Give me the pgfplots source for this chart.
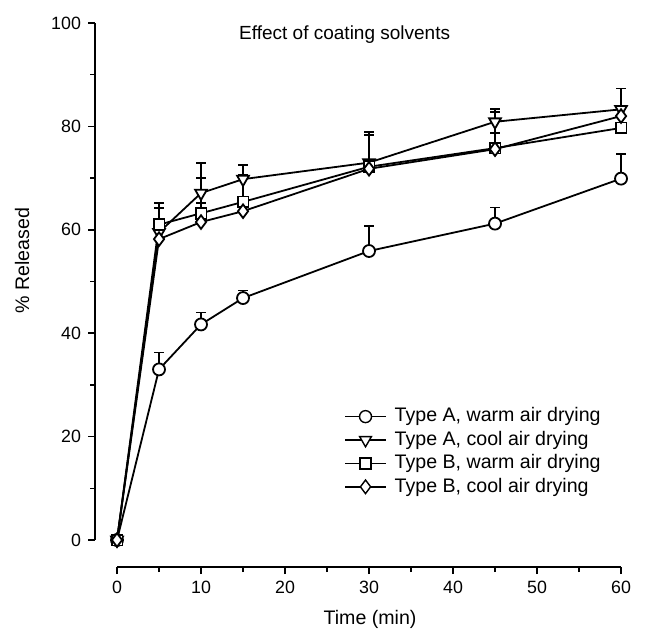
\documentclass[border=0pt]{standalone}
\usepackage{pgfplots}
\pgfplotsset{compat=1.18}
\usepackage{fontspec}
\setmainfont{Liberation Sans}
\begin{document}
\begin{tikzpicture}
\begin{axis}[
  scale only axis,
  width=252pt, height=258.5pt,
  xmin=0, xmax=60, ymin=0, ymax=100,
  clip=false,
  axis x line=bottom, axis y line=left,
  axis line style={-, line width=0.75pt},
  axis x line shift=13.5pt,
  axis y line shift=11pt,
  xtick={0,10,...,60}, ytick={0,20,...,100},
  minor x tick num=1, minor y tick num=1,
  tick align=outside,
  major tick length=3.5pt, minor tick length=2.5pt,
  tick style={line width=0.75pt, black},
  ticklabel style={font=\fontsize{8.9}{10}\selectfont},
  /pgf/number format/assume math mode=true,
  every axis y label/.style={at={(axis description cs:-0.1885,0.54)}, rotate=90, anchor=center, font=\fontsize{9.8}{12}\selectfont},
  every axis x label/.style={at={(axis description cs:0.502,-0.153)}, anchor=center, font=\fontsize{9.8}{12}\selectfont},
  xlabel={Time (min)},
  ylabel={\% Released},
  legend style={at={(axis cs:26.3,26.5)}, anchor=north west, draw=none, fill=none,
    font=\fontsize{9.8}{12}\selectfont, row sep=2.5pt, column sep=4pt,
    nodes={inner sep=0pt, text height=7.2pt, text depth=2pt}},
  legend cell align=left,
  legend image code/.code={\draw[line width=0.7pt, mark repeat=2,mark phase=2] plot coordinates {(0cm,0cm) (0.36cm,0cm) (0.72cm,0cm)};},
  every axis plot/.append style={black, line width=0.9pt},
  error bars/error bar style={line width=0.8pt},
  error bars/error mark options={mark size=2.5pt, line width=0.8pt, rotate=90},
]
\addplot[mark=*, mark size=3pt, mark options={fill=white},
  error bars/.cd, y dir=plus, y explicit] coordinates {
  (0,0) +- (0,0)
  (5,33.0) +- (0,3.3)
  (10,41.7) +- (0,2.3)
  (15,46.8) +- (0,1.5)
  (30,55.9) +- (0,4.8)
  (45,61.2) +- (0,3.1)
  (60,69.9) +- (0,4.8)
};
\addlegendentry{Type A, warm air drying}
\addplot[mark=triangle*, mark size=3.4pt, mark options={fill=white, rotate=180},
  error bars/.cd, y dir=plus, y explicit] coordinates {
  (0,0) +- (0,0)
  (5,59.5) +- (0,4.7)
  (10,67.1) +- (0,5.8)
  (15,69.8) +- (0,2.7)
  (30,73.0) +- (0,5.9)
  (45,80.9) +- (0,2.5)
  (60,83.3) +- (0,4.0)
};
\addlegendentry{Type A, cool air drying}
\addplot[mark=square*, mark size=2.7pt, mark options={fill=white},
  error bars/.cd, y dir=plus, y explicit] coordinates {
  (0,0) +- (0,0)
  (5,61.0) +- (0,4.2)
  (10,63.2) +- (0,6.8)
  (15,65.4) +- (0,5.2)
  (30,72.2) +- (0,6.1)
  (45,75.8) +- (0,7.0)
  (60,79.7) +- (0,0)
};
\addlegendentry{Type B, warm air drying}
\addplot[mark=diamond*, mark size=3.4pt, mark options={fill=white},
  error bars/.cd, y dir=plus, y explicit] coordinates {
  (0,0) +- (0,0)
  (5,58.2) +- (0,0)
  (10,61.5) +- (0,3.7)
  (15,63.6) +- (0,0)
  (30,71.8) +- (0,0)
  (45,75.6) +- (0,3.1)
  (60,82.0) +- (0,0)
};
\addlegendentry{Type B, cool air drying}
\node[font=\fontsize{9.5}{12}\selectfont] at (axis cs:27.1,97.7) {Effect of coating solvents};
\coordinate (TL) at (axis cs:-13.93,104.45);
\coordinate (BR) at (axis cs:64.52,-19.54);
\end{axis}
\pgfresetboundingbox
\path[use as bounding box] (TL) rectangle (BR);
\end{tikzpicture}
\end{document}
